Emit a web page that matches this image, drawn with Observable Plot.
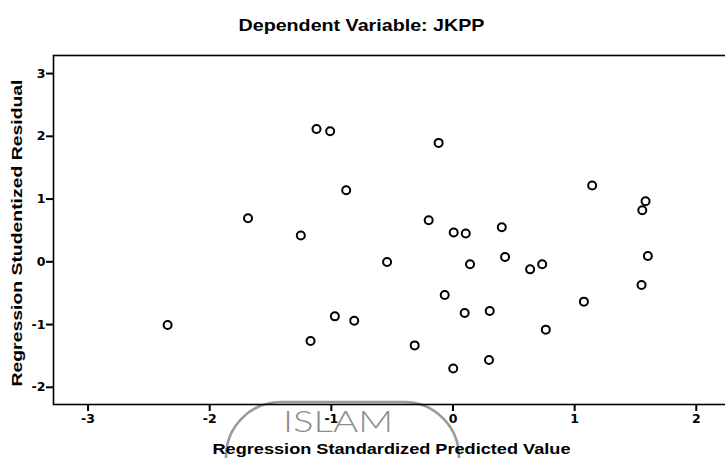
<!DOCTYPE html>
<html>
<head>
<meta charset="utf-8">
<script src="https://cdn.jsdelivr.net/npm/d3@7"></script>
<script src="https://cdn.jsdelivr.net/npm/@observablehq/plot@0.6"></script>
<style>
  html, body { margin: 0; padding: 0; background: white; overflow: hidden; }
  #chart { width: 725px; height: 458px; overflow: hidden; }
  #chart svg [aria-label$="axis tick"],
  #chart svg [aria-label$="-axis"] line {
    stroke-width: 2px;
    stroke: black;
  }
</style>
</head>
<body>
<div id="chart"></div>
<script>
// Regression Standardized Predicted Value (x) and Studentized Residual (y)
const predicted = [
  -2.346, -1.685, -1.251, -1.171, -1.122, -1.010, -0.971, -0.878,
  -0.812, -0.542, -0.315, -0.200, -0.118, -0.068, 0.006, 0.002,
  0.105, 0.140, 0.096, 0.302, 0.296, 0.401, 0.428, 0.634,
  0.733, 0.763, 1.076, 1.144, 1.550, 1.556, 1.583, 1.602
];
const residual = [
  -1.008, 0.694, 0.418, -1.263, 2.118, 2.081, -0.869, 1.140,
  -0.938, -0.003, -1.332, 0.662, 1.895, -0.530, 0.466, -1.699,
  0.450, -0.040, -0.817, -0.785, -1.566, 0.550, 0.077, -0.120,
  -0.040, -1.081, -0.635, 1.215, -0.370, 0.821, 0.965, 0.093
];
const xTicks = [-3, -2, -1, 0, 1, 2];
const yTicks = [-2, -1, 0, 1, 2, 3];
const titleText = "Dependent Variable: JKPP";
const xLabelText = "Regression Standardized Predicted Value";
const yLabelText = "Regression Studentized Residual";
const watermarkText = "ISLAM";

const points = predicted.map((x, i) => ({x, y: residual[i]}));

const chart = Plot.plot({
  width: 725,
  height: 458,
  marginTop: 55,
  marginBottom: 54,
  marginLeft: 53,
  marginRight: -4,
  style: {
    fontFamily: "DejaVu Sans",
    fontWeight: "bold",
    fontSize: "12.5px",
    background: "white",
    color: "black"
  },
  x: {domain: [-3.284, 2.273], ticks: xTicks, tickSize: 7, tickPadding: 3, label: null, tickFormat: d => String(d)},
  y: {domain: [-2.274, 3.288], ticks: yTicks, tickSize: 7, tickPadding: 1, label: null, tickFormat: d => String(d)},
  marks: [
    Plot.frame({stroke: "black", strokeWidth: 1.6}),
    Plot.dot(points, {x: "x", y: "y", r: 4, stroke: "black", strokeWidth: 2, fill: "none"}),
    Plot.text([titleText], {text: d => d, frameAnchor: "top", textAnchor: "middle", lineAnchor: "middle", dx: -30, dy: -30,
      fontFamily: "Liberation Sans", fontWeight: "bold", fontSize: 16.5}),
    Plot.text([xLabelText], {text: d => d, frameAnchor: "bottom", textAnchor: "middle", lineAnchor: "middle", dx: 0, dy: 44.5,
      fontFamily: "Liberation Sans", fontWeight: "bold", fontSize: 15}),
    Plot.text([yLabelText], {text: d => d, frameAnchor: "left", textAnchor: "middle", lineAnchor: "middle", dx: -36, dy: 3, rotate: -90,
      fontFamily: "Liberation Sans", fontWeight: "bold", fontSize: 14.5})
  ]
});

document.getElementById("chart").appendChild(chart);

const svg = d3.select(chart);
// stretch label text to the reference's wide lettering; enlarge tick labels
const lengths = new Map([[titleText, 246], [xLabelText, 358], [yLabelText, 307]]);
const tickStrings = new Set([...xTicks, ...yTicks].map(String));
svg.selectAll("text").each(function() {
  const t = this.textContent.replace("\u2212", "-").trim();
  const sel = d3.select(this);
  if (lengths.has(t)) {
    sel.attr("textLength", lengths.get(t)).attr("lengthAdjust", "spacingAndGlyphs");
  } else if (tickStrings.has(t)) {
    sel.attr("font-size", 12.5)
      .style("font-size", "12.5px").style("font-family", "'DejaVu Sans'").style("font-weight", "bold");
  }
});

// grey watermark stamp (decoration, behind everything)
const wm = svg.insert("g", ":first-child").attr("aria-label", "watermark");
wm.append("rect").attr("x", 226).attr("y", 402).attr("width", 233).attr("height", 140)
  .attr("rx", 55).attr("fill", "none").attr("stroke", "#9a9a9a").attr("stroke-width", 2.6);
wm.append("text").text(watermarkText).attr("x", 338).attr("y", 432)
  .attr("text-anchor", "middle").attr("fill", "#8c8c8c")
  .attr("font-family", "Lato").attr("font-weight", 300).attr("font-size", 29)
  .attr("textLength", 110).attr("lengthAdjust", "spacingAndGlyphs");
</script>
</body>
</html>
